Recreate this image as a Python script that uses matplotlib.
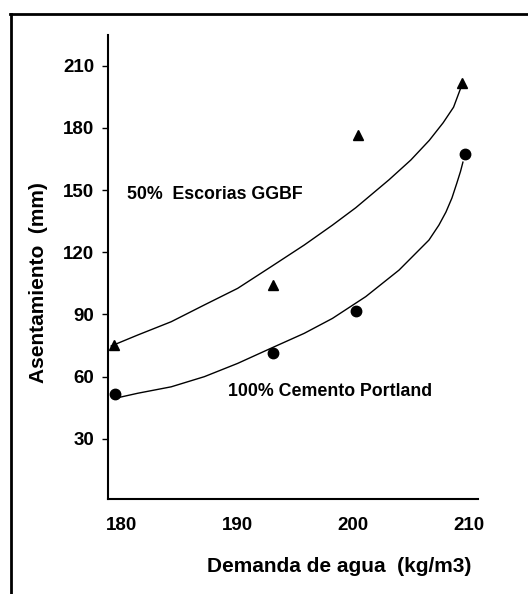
import numpy as np
import matplotlib.pyplot as plt
from matplotlib.lines import Line2D

plt.rcParams['font.family'] = ['Liberation Sans', 'DejaVu Sans']
plt.rcParams['font.weight'] = 'bold'
plt.rcParams['axes.labelweight'] = 'bold'

# puntos medidos
x_gg = [179.28, 193.04, 200.47, 209.45]
y_gg = [75.3, 104.2, 176.5, 201.5]
x_cp = [179.37, 193.1, 200.24, 209.68]
y_cp = [51.6, 71.2, 91.7, 167.2]

# curvas de tendencia
xc_gg = [179.08, 181.38, 184.27, 187.14, 190.02, 192.90, 195.78, 198.22,
         200.24, 203.12, 205.0, 206.6, 207.8, 208.7, 209.31]
yc_gg = [74.8, 80.1, 86.5, 94.6, 102.6, 113.0, 123.5, 133.1,
         141.5, 155.0, 164.5, 174.0, 182.5, 190.0, 199.1]
xc_cp = [179.37, 181.38, 184.27, 187.14, 190.02, 192.90, 195.78, 198.22,
         201.1, 203.98, 206.57, 207.43, 208.04, 208.56, 208.99, 209.3, 209.51]
yc_cp = [49.5, 52.0, 55.1, 60.0, 66.4, 73.7, 80.9, 88.1,
         98.6, 111.4, 125.9, 133.1, 139.4, 146.2, 153.5, 159.0, 163.5]

yticks = [30, 60, 90, 120, 150, 180, 210]
xticks = [180, 190, 200, 210]

fig = plt.figure(figsize=(5.28, 5.94), dpi=100)
ax = fig.add_axes([0.2045, 0.16, 0.7005, 0.781])

ax.plot(xc_gg, yc_gg, color='black', lw=1.0)
ax.plot(xc_cp, yc_cp, color='black', lw=1.0)
ax.plot(x_gg, y_gg, '^', color='black', ms=7, clip_on=False)
ax.plot(x_cp, y_cp, 'o', color='black', ms=7.5, clip_on=False)

ax.set_xlim(178.8, 210.8)
ax.set_ylim(1, 224.8)
ax.set_xticks(xticks)
ax.set_yticks(yticks)
ax.tick_params(axis='y', length=4, width=1, pad=6, labelsize=13.5)
ax.tick_params(axis='x', length=0, pad=13, labelsize=13.5)

for s in ['top', 'right']:
    ax.spines[s].set_visible(False)
for s in ['left', 'bottom']:
    ax.spines[s].set_linewidth(1.5)

ax.text(180.45, 148, '50%  Escorias GGBF', fontsize=12.8, va='center', ha='left')
ax.text(189.2, 52.6, '100% Cemento Portland', fontsize=12.8, va='center', ha='left')

ax.set_xlabel('Demanda de agua  (kg/m3)', fontsize=15, fontweight='bold')
ax.set_ylabel('Asentamiento  (mm)', fontsize=15, fontweight='bold')
ax.xaxis.set_label_coords(0.625, -0.125)
ax.yaxis.set_label_coords(-0.162, 0.467)

# marco exterior
fig.add_artist(Line2D([10 / 528, 1.0], [1 - 14 / 594, 1 - 14 / 594], color='black', lw=2))
fig.add_artist(Line2D([11 / 528, 11 / 528], [1 - 14 / 594, 0.0], color='black', lw=2))

fig.savefig('out.png', dpi=100)
